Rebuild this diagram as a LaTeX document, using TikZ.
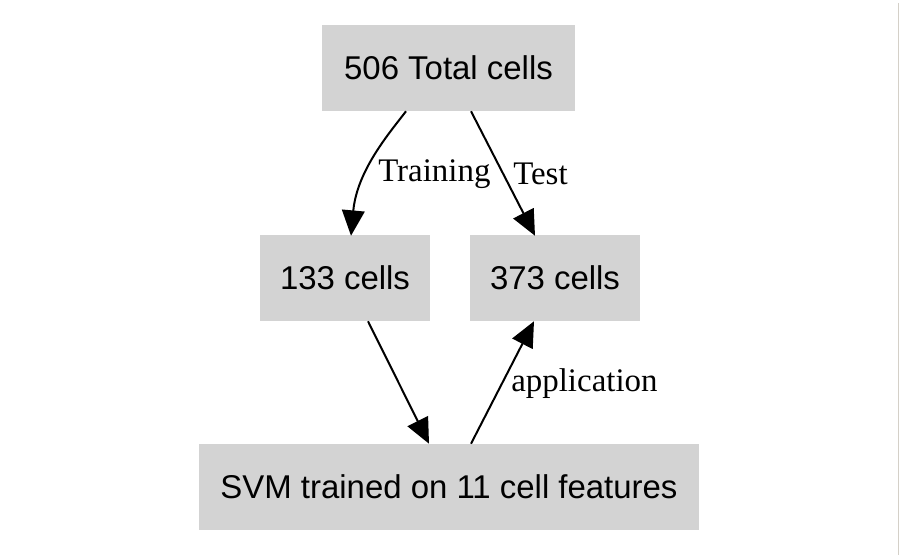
\documentclass[tikz,border=0pt]{standalone}
\usepackage{fontspec}
\setmainfont{Liberation Serif}
\newfontfamily\boxfont{Liberation Sans}
\usetikzlibrary{calc,arrows.meta}
\definecolor{boxgray}{HTML}{D3D3D3}
\definecolor{edgegray}{HTML}{D4D0C8}
\tikzset{
  box/.style={fill=boxgray, draw=none, inner sep=0pt, minimum height=64.5pt, font=\boxfont\fontsize{24.7}{28}\selectfont},
  lbl/.style={anchor=west, inner sep=0pt, font=\fontsize{24.7}{28}\selectfont},
  conn/.style={line width=1.5pt, -{Triangle[length=19pt,width=17pt]}}
}
\begin{document}
\begin{tikzpicture}[x=0.75pt,y=-0.75pt]
\useasboundingbox (0,0) rectangle (900,555);
\fill[white] (0,0) rectangle (900,555);
\draw[edgegray, line width=1pt] (898.5,3) -- (898.5,555);
\node[box, minimum width=189.75pt] (top) at (448.5,68) {506 Total cells};
\node[box, minimum width=127.5pt] (n133) at (345,278) {133 cells};
\node[box, minimum width=127.5pt] (n373) at (555,278) {373 cells};
\node[box, minimum width=375pt] (svm) at (449,487) {SVM trained on 11 cell features};
\draw[conn] ($(top.south)+(-42.5,0)$) .. controls ($(top.south)+(-58.5,21)$) and ($(top.south)+(-91.5,59)$) .. ($(n133.north)+(6,1)$);
\draw[conn] ($(top.south)+(22.5,0)$) -- ($(n373.north)+(-20,1)$);
\draw[conn] ($(n133.south)+(23,0)$) -- ($(svm.north)+(-20,0)$);
\draw[conn] ($(svm.north)+(22,0)$) -- ($(n373.south)+(-21,0)$);
\node[lbl] (ltrain) at (378,174) {Training};
\node[lbl] (ltest) at (513,174) {Test};
\node[lbl] (lapp) at (511,384) {application};
\end{tikzpicture}
\end{document}
